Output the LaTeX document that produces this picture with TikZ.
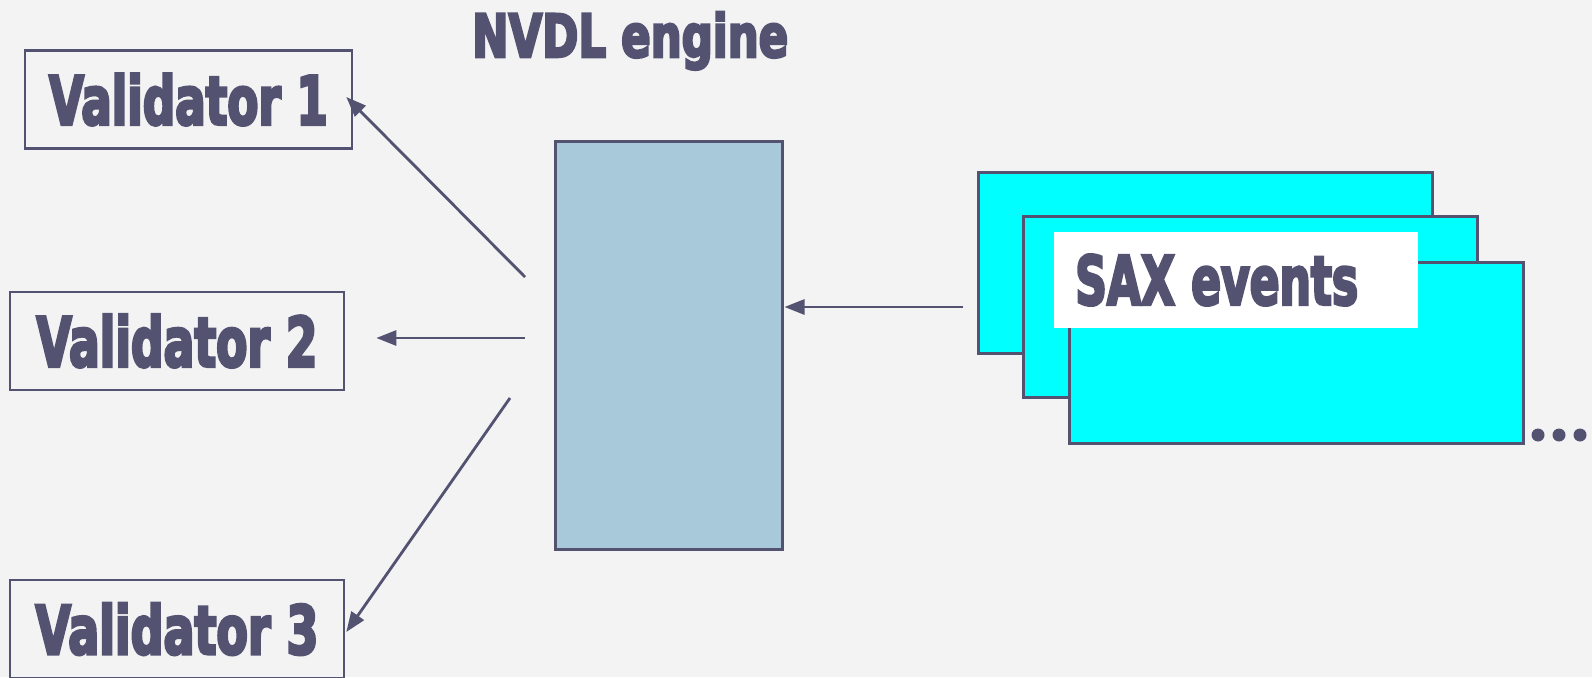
\documentclass[tikz,border=0pt]{standalone}
\usepackage{fontspec}
\usepackage{graphicx}
\newfontfamily\imp{DejaVu Sans Condensed Bold}[FakeBold=4.5]
\usetikzlibrary{arrows.meta,calc}
\definecolor{ink}{RGB}{84,82,113}
\definecolor{bg}{RGB}{243,243,244}
\definecolor{engfill}{RGB}{167,201,217}
\definecolor{cyanfill}{RGB}{0,255,255}
\newcommand{\imptxt}[3]{{\imp\color{ink}\resizebox{#1pt}{#2pt}{#3}}}
\tikzset{
  valbox/.style={draw=ink, line width=2.6pt, inner sep=0pt, minimum width=334pt, minimum height=98pt},
  engbox/.style={draw=ink, line width=3pt, fill=engfill, inner sep=0pt, minimum width=227pt, minimum height=408pt},
  saxbox/.style={draw=ink, line width=3pt, fill=cyanfill, inner sep=0pt, minimum width=454pt, minimum height=181pt},
  arr/.style={draw=ink, line width=2.8pt, -{Triangle[length=20pt,width=15pt]}},
  dotc/.style={circle, fill=ink, inner sep=0pt, minimum size=13pt}
}
\begin{document}
\begin{tikzpicture}[x=1pt,y=-1pt]
\useasboundingbox (0,0) rectangle (1592,677);
\fill[bg] (0,0) rectangle (1592,677);
% title
\node[anchor=base west, inner sep=0pt] (title) at (472,57) {\imptxt{316}{45}{NVDL engine}};
% validators
\node[valbox, minimum width=327pt] (v1) at (188.5,99.5) {\imptxt{279}{51}{Validator 1}};
\node[valbox] (v2) at (177,341) {\imptxt{281}{52}{Validator 2}};
\node[valbox] (v3) at (177,629) {\imptxt{283}{51}{Validator 3}};
% engine
\node[engbox] (eng) at (668.5,345) {};
% SAX stack
\node[saxbox] (sa) at (1205,262.5) {};
\node[saxbox] (sb) at (1250,307) {};
\node[saxbox] (sc) at (1296,352.5) {};
\node[fill=white, anchor=west, inner xsep=21pt, inner ysep=0pt, minimum height=96pt, text width=322pt, align=left] (saxlbl) at (1054,280) {\imptxt{283}{50}{SAX events}};
% dots
\node[dotc] (d1) at (1538,435) {};
\node[dotc] (d2) at (1559,435) {};
\node[dotc] (d3) at (1580,435) {};
% connectors
\coordinate (s1) at (525,277);
\coordinate (s2) at (525,338);
\coordinate (s3) at (510,398);
\coordinate (s4) at (963,307);
\draw[arr] (s1) -- ($(v1.east)+(-7,-2.5)$);
\draw[arr] (s2) -- ($(v2.east)+(31,-3)$);
\draw[arr] (s3) -- ($(v3.east)+(1,3)$);
\draw[arr] (s4) -- ($(eng.east)+(1,-38)$);
\end{tikzpicture}
\end{document}
